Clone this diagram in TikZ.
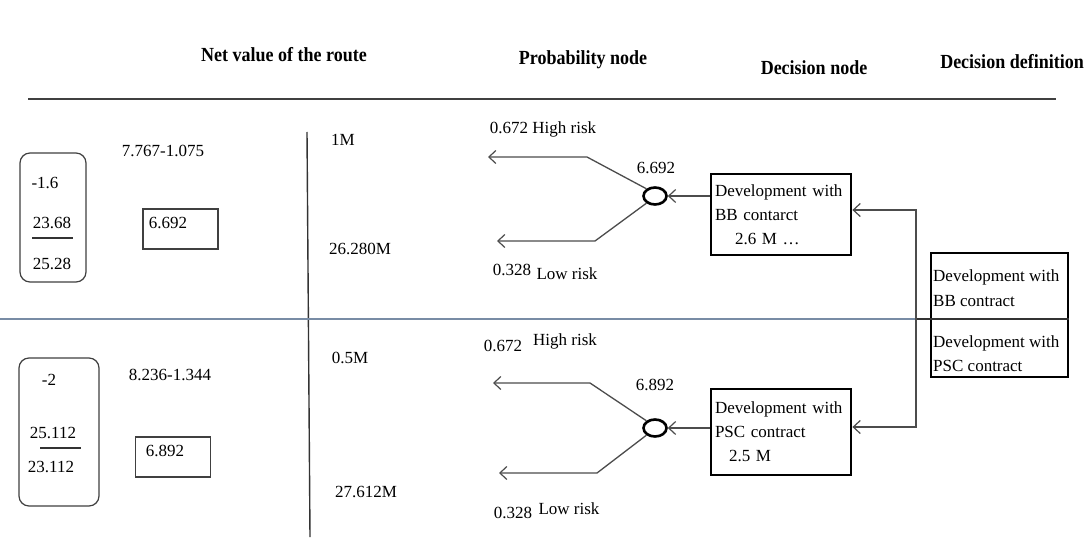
\documentclass[tikz,border=0pt]{standalone}
\usepackage{fontspec}
\usepackage{graphicx}
\setmainfont{Liberation Serif}
\usetikzlibrary{arrows.meta,shapes.geometric}
\begin{document}
\begin{tikzpicture}[x=1pt,y=-1pt,
  txt/.style={font=\fontsize{17}{24}\selectfont, inner sep=0pt},
  hdr/.style={font=\fontsize{20}{22}\selectfont\bfseries, inner sep=0pt},
  arr/.style={draw=black!70, line width=1.3pt, -{Straight Barb[length=7pt,width=13pt,line width=1.2pt]}},
  plain/.style={draw=black!70, line width=1.3pt},
  decbox/.style={draw=black, line width=2.8pt, minimum width=140pt, inner sep=0pt},
  valbox/.style={draw=black!75, line width=1.2pt, minimum width=75pt, minimum height=40pt, inner sep=0pt},
  rbox/.style={draw=black!75, line width=1.2pt, rounded corners=10pt, inner sep=0pt},
  chance/.style={ellipse, draw=black, line width=2.6pt, minimum width=23pt, minimum height=17pt, inner sep=0pt},
]
\useasboundingbox (0,0) rectangle (1089,548);
\fill[white] (0,0) rectangle (1089,548);

% headers
\node[hdr] (h1) at (284,55) {\scalebox{0.9}[1]{Net value of the route}};
\node[hdr] (h2) at (583,60) {\scalebox{0.9}[1]{Probability node}};
\node[hdr] (h3) at (814,68) {\scalebox{0.9}[1]{Decision node}};
\node[hdr] (h4) at (1012,62) {\scalebox{0.9}[1]{Decision definition}};
\draw[draw=black!75, line width=2pt] (28,99) -- (1056,99);

% separators
\draw[draw=black!80, line width=1.4pt] (307,132) -- (310,537);
\coordinate (jm) at (916,319);
\draw[draw={rgb,255:red,120;green,140;blue,165}, line width=1.1pt] (0,319) -- (jm);

% ---------- top section ----------
\node[rbox, minimum width=66pt, minimum height=129pt] (lb1) at (53,217.5) {};
\node[txt] (t1a) at (45,183) {-1.6};
\node[txt] (t1b) at (52,223) {23.68};
\draw[draw=black!80, line width=1.3pt] (32,238) -- (73,238);
\node[txt] (t1c) at (52,264) {25.28};
\node[txt] (t1d) at (163,151) {7.767-1.075};
\node[valbox] (vb1) at (180.5,229) {};
\node[txt] (t1e) at (168,223) {6.692};
\node[txt] (t1f) at (343,140) {1M};
\node[txt] (t1g) at (360,249) {26.280M};

\node[txt] (p1h) at (543,129) {0.672 High risk};
\node[txt] (p1v) at (656,168) {6.692};
\node[txt] (p1l) at (512,270) {0.328};
\node[txt] (p1m) at (567,274) {Low risk};
\node[chance] (c1) at (655,196) {};
\coordinate (h1b) at (587,157);
\coordinate (h1e) at (488,157);
\coordinate (l1b) at (595,241);
\coordinate (l1e) at (497,241);
\draw[arr] (c1.140) -- (h1b) -- (h1e);
\draw[arr] (c1.220) -- (l1b) -- (l1e);

\node[decbox, minimum height=81pt, txt, align=left, text width=132pt, draw=black, line width=2.8pt, inner sep=0pt] (d1) at (781,214.5)
  {Development with\\BB contarct\\\hspace*{20pt}2.6 M \ldots};
\draw[arr] (d1.west |- c1) -- (c1.east);

% ---------- bottom section ----------
\node[rbox, minimum width=80pt, minimum height=148pt] (lb2) at (59,432) {};
\node[txt] (t2a) at (49,380) {-2};
\node[txt] (t2b) at (53,433) {25.112};
\draw[draw=black!80, line width=1.3pt] (40,448) -- (81,448);
\node[txt] (t2c) at (51,467) {23.112};
\node[txt] (t2d) at (170,375) {8.236-1.344};
\node[valbox] (vb2) at (173,457) {};
\node[txt] (t2e) at (165,451) {6.892};
\node[txt] (t2f) at (350,358) {0.5M};
\node[txt] (t2g) at (366,492) {27.612M};

\node[txt] (p2a) at (503,346) {0.672};
\node[txt] (p2h) at (565,341) {High risk};
\node[txt] (p2v) at (655,385) {6.892};
\node[txt] (p2l) at (513,513) {0.328};
\node[txt] (p2m) at (569,509) {Low risk};
\node[chance] (c2) at (655,428) {};
\coordinate (h2b) at (590,383);
\coordinate (h2e) at (493,383);
\coordinate (l2b) at (597,473);
\coordinate (l2e) at (499,473);
\draw[arr] (c2.140) -- (h2b) -- (h2e);
\draw[arr] (c2.220) -- (l2b) -- (l2e);

\node[decbox, minimum height=86pt, txt, align=left, text width=132pt, draw=black, line width=2.8pt, inner sep=0pt] (d2) at (781,432)
  {Development with\\PSC contract\\\hspace*{14pt}2.5 M};
\draw[arr] (d2.west |- c2) -- (c2.east);

% ---------- decision definition ----------
\node[draw=black, line width=2.8pt, minimum width=137pt, minimum height=124pt, inner sep=0pt] (R) at (999.5,315) {};
\draw[draw=black!80, line width=1.3pt] (R.west |- jm) -- (R.east |- jm);
\node[txt, anchor=west] (r1) at (933,277) {Development with};
\node[txt, anchor=west] (r2) at (933,301) {BB contract};
\node[txt, anchor=west] (r3) at (933,343) {Development with};
\node[txt, anchor=west] (r4) at (933,366) {PSC contract};

\coordinate (jt) at (916,210);
\coordinate (jb) at (916,427);
\draw[draw=black!80, line width=1.6pt] (R.west |- jm) -- (jm);
\draw[arr] (jm) -- (jt) -- (d1.east |- jt);
\draw[arr] (jm) -- (jb) -- (d2.east |- jb);
\end{tikzpicture}
\end{document}
